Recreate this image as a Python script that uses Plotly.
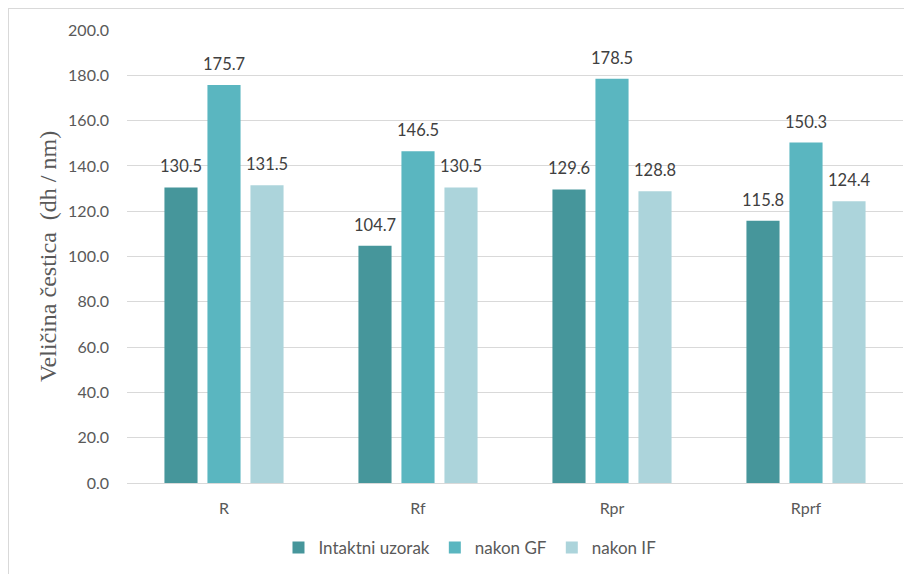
import plotly.graph_objects as go

categories = ["R", "Rf", "Rpr", "Rprf"]
series_names = ["Intaktni uzorak", "nakon GF", "nakon IF"]
intaktni = [130.5, 104.7, 129.6, 115.8]
nakon_gf = [175.7, 146.5, 178.5, 150.3]
nakon_if = [131.5, 130.5, 128.8, 124.4]
y_ticks = [0, 20, 40, 60, 80, 100, 120, 140, 160, 180, 200]
colors = ["#46969B", "#5AB6C0", "#ACD4DB"]

# page body has an 8px default margin, so the figure is sized to fit the window
W, H = 904, 566
L, R, T, B = 119, 9, 22, 91
pw, ph = W - L - R, H - T - B
BARGAP, GROUPGAP = 0.335, 0.23
slot_px = pw / len(categories) * (1 - BARGAP) / len(series_names)

fig = go.Figure()
annotations = []
for i, (name, vals, c) in enumerate(zip(series_names, [intaktni, nakon_gf, nakon_if], colors)):
    fig.add_trace(go.Bar(
        x=categories, y=vals, name=name, marker=dict(color=c, line=dict(width=0)),
    ))
    for cat, v in zip(categories, vals):
        annotations.append(dict(
            x=cat, y=v, xref="x", yref="y", text=f"{v:.1f}", showarrow=False,
            xshift=(i - 1) * slot_px, yanchor="bottom", yshift=9,
            font=dict(family="Lato, Open Sans, sans-serif", size=16.5, color="#404040"),
        ))

fig.update_layout(
    width=W, height=H,
    margin=dict(l=L, r=R, t=T, b=B, autoexpand=False),
    paper_bgcolor="white", plot_bgcolor="white",
    barmode="group", bargap=BARGAP, bargroupgap=GROUPGAP,
    font=dict(family="Lato, Open Sans, sans-serif", size=14, color="#595959"),
    legend=dict(orientation="h", x=0.442, xanchor="center", y=-0.1435, yanchor="middle",
                font=dict(size=17, color="#595959"), traceorder="normal", itemwidth=30),
    xaxis=dict(range=[-0.5, 3.5], showgrid=False, ticks="", showline=False, automargin=False,
               ticklabelstandoff=14,
               tickfont=dict(size=16, color="#595959")),
    yaxis=dict(range=[0, 200], tickvals=y_ticks, tickformat=".1f", automargin=False,
               showgrid=True, gridcolor="#D9D9D9", gridwidth=1.3,
               zeroline=True, zerolinecolor="#D9D9D9", zerolinewidth=1.3,
               ticks="", ticklabelstandoff=17,
               tickfont=dict(size=16, color="#595959"),
               title=dict(text="Veličina čestica  (dh / nm)",
                          font=dict(family="Liberation Serif, serif", size=24, color="#595959"),
                          standoff=4)),
    annotations=annotations,
    shapes=[dict(type="rect", xref="paper", yref="paper",
                 x0=(0 - L) / pw, x1=(W + 5 - L) / pw,
                 y0=1 - (H + 5 - T) / ph, y1=1 + (T - 0) / ph,
                 line=dict(color="#D9D9D9", width=2), fillcolor="rgba(0,0,0,0)", layer="below")],
)

fig.write_html("out.html")
